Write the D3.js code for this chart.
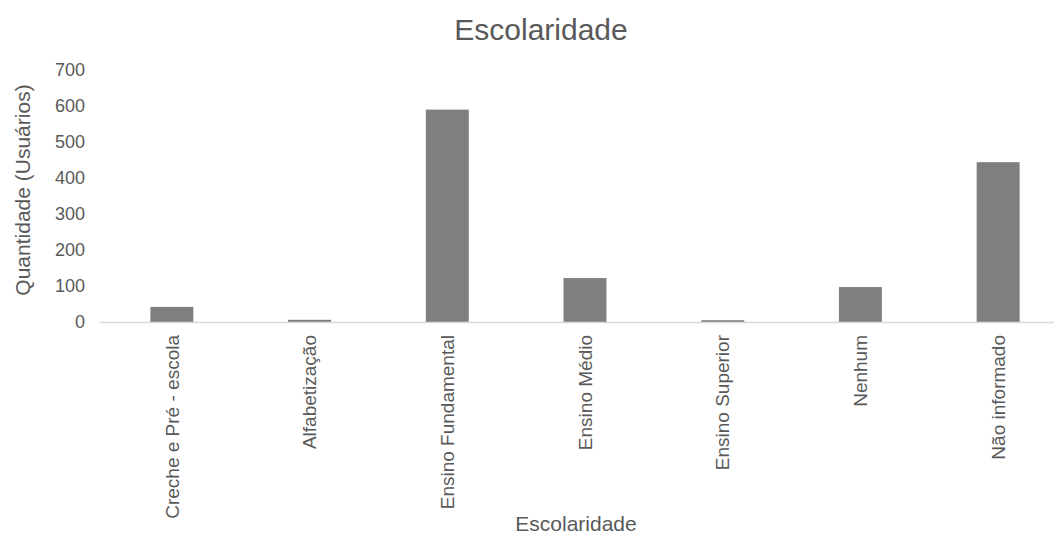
<!DOCTYPE html>
<html>
<head>
<meta charset="utf-8">
<script src="https://cdn.jsdelivr.net/npm/d3@7/dist/d3.min.js"></script>
<style>
  html, body { margin: 0; padding: 0; background: #ffffff; }
  svg { display: block; font-family: "Liberation Sans", Arial, sans-serif; }
</style>
</head>
<body>
<svg id="chart" width="1054" height="537"></svg>
<script>
// Users by schooling level
const categories = [
  "Creche e Pré - escola",
  "Alfabetização",
  "Ensino Fundamental",
  "Ensino Médio",
  "Ensino Superior",
  "Nenhum",
  "Não informado"
];
const values = [42, 6, 590, 122, 5, 97, 444];
const yTicks = [0, 100, 200, 300, 400, 500, 600, 700];

const titleText = "Escolaridade";
const xTitle = "Escolaridade";
const yTitle = "Quantidade (Usuários)";

const svg = d3.select("#chart");
const textColor = "#595959";
const barColor = "#7f7f7f";
const axisColor = "#d9d9d9";

const x = d3.scaleBand()
  .domain(categories)
  .range([103, 1067])
  .paddingInner(0.688)
  .paddingOuter(0.344);

const y = d3.scaleLinear()
  .domain([0, 700])
  .range([322, 70]);

// Title
svg.append("text")
  .attr("x", 541)
  .attr("y", 40)
  .attr("text-anchor", "middle")
  .attr("fill", textColor)
  .style("font-size", "30px")
  .text(titleText);

// Y axis (labels only, no line)
const yAxis = svg.append("g")
  .attr("transform", "translate(85,0)")
  .call(d3.axisLeft(y).tickValues(yTicks).tickSize(0).tickPadding(0));
yAxis.select(".domain").remove();
yAxis.selectAll("text")
  .attr("fill", textColor)
  .style("font-size", "18px")
  .style("font-family", "'Liberation Sans', Arial, sans-serif");

// Bars
svg.append("g")
  .selectAll("rect")
  .data(values)
  .join("rect")
  .attr("x", (d, i) => x(categories[i]))
  .attr("y", d => y(d))
  .attr("width", x.bandwidth())
  .attr("height", d => y(0) - y(d))
  .attr("fill", barColor);

// Baseline
svg.append("line")
  .attr("x1", 100)
  .attr("x2", 1054)
  .attr("y1", y(0) + 0.5)
  .attr("y2", y(0) + 0.5)
  .attr("stroke", axisColor)
  .attr("stroke-width", 1.5);

// X axis category labels, rotated
const xAxis = svg.append("g")
  .attr("transform", `translate(0,${y(0)})`)
  .call(d3.axisBottom(x).tickSize(0).tickPadding(0));
xAxis.select(".domain").remove();
xAxis.selectAll("text")
  .attr("fill", textColor)
  .style("font-size", "19px")
  .style("font-family", "'Liberation Sans', Arial, sans-serif")
  .attr("text-anchor", "end")
  .attr("transform", "translate(0,13) rotate(-90)")
  .attr("x", 0)
  .attr("y", 0)
  .attr("dy", "0.35em");

// Axis titles
svg.append("text")
  .attr("x", 576)
  .attr("y", 531)
  .attr("text-anchor", "middle")
  .attr("fill", textColor)
  .style("font-size", "21px")
  .text(xTitle);

svg.append("text")
  .attr("transform", "translate(30,190) rotate(-90)")
  .attr("text-anchor", "middle")
  .attr("fill", textColor)
  .style("font-size", "21px")
  .text(yTitle);
</script>
</body>
</html>
